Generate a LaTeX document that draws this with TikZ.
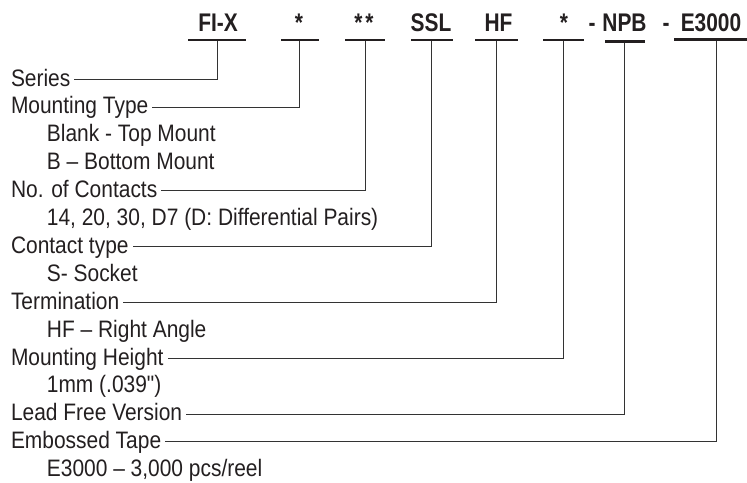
\documentclass[tikz,border=0pt]{standalone}
\usepackage{fontspec}
\setmainfont{Liberation Sans}
\newfontfamily\lblfont[FakeStretch=0.88]{Liberation Sans}
\newfontfamily\hdrfont[FakeStretch=0.82]{Liberation Sans}
\definecolor{ink}{HTML}{231F20}
\definecolor{leadc}{HTML}{333333}
\begin{document}
\begin{tikzpicture}[x=1pt,y=-1pt,
  lbl/.style={anchor=base west, inner sep=0pt, outer xsep=4pt, text height=13.6pt, text depth=0pt,
              font=\lblfont\fontsize{23.8}{25}\selectfont, text=ink},
  sub/.style={anchor=base west, inner sep=0pt, font=\lblfont\fontsize{23.8}{25}\selectfont, text=ink},
  hdr/.style={anchor=base, inner sep=0pt, font=\hdrfont\bfseries\fontsize{25.5}{27}\selectfont, text=ink},
  bar/.style={fill=ink, inner sep=0pt, minimum height=2.5pt},
  lead/.style={draw=leadc, line width=1pt}]
\useasboundingbox (0,0) rectangle (747,482);

% header codes
\node[hdr] (h1) at (218,31.5) {FI-X};
\node[hdr] (h2) at (299,31.5) {*};
\node[hdr] (h3) at (364,31.5) {*\kern3pt*};
\node[hdr] (h4) at (431,31.5) {SSL};
\node[hdr] (h5) at (498.5,31.5) {HF};
\node[hdr] (h6) at (564,31.5) {*};
\node[hdr] (d1) at (592,31.5) {-};
\node[hdr] (h7) at (624.5,31.5) {NPB};
\node[hdr] (d2) at (666,31.5) {-};
\node[hdr] (h8) at (711,31.5) {E3000};

% bars
\node[bar, minimum width=58pt] (b1) at (217,40) {};
\node[bar, minimum width=38pt] (b2) at (299.5,40) {};
\node[bar, minimum width=40pt] (b3) at (365,40) {};
\node[bar, minimum width=42pt] (b4) at (431.5,40) {};
\node[bar, minimum width=43pt] (b5) at (496,40) {};
\node[bar, minimum width=41pt] (b6) at (563.5,40) {};
\node[bar, minimum width=40pt] (b7) at (624.5,41.5) {};
\node[bar, minimum width=74pt] (b8) at (711,39.5) {};

% labels
\node[lbl] (l1) at (7,86) {Series};
\node[lbl] (l2) at (7,113.9) {Mounting Type};
\node[sub] (s2a) at (46.7,141.8) {Blank - Top Mount};
\node[sub] (s2b) at (46.7,169.7) {B – Bottom Mount};
\node[lbl] (l3) at (7,197.6) {No. of Contacts};
\node[sub] (s3) at (46.7,225.5) {14, 20, 30, D7 (D: Differential Pairs)};
\node[lbl] (l4) at (7,253.4) {Contact type};
\node[sub] (s4) at (46.7,281.3) {S- Socket};
\node[lbl] (l5) at (7,309.2) {Termination};
\node[sub] (s5) at (46.7,337.1) {HF – Right Angle};
\node[lbl] (l6) at (7,365) {Mounting Height};
\node[sub] (s6) at (46.7,392.9) {1mm (.039")};
\node[lbl] (l7) at (7,420.8) {Lead Free Version};
\node[lbl] (l8) at (7,448.7) {Embossed Tape};
\node[sub] (s8) at (46.7,476.6) {E3000 – 3,000 pcs/reel};

% leaders
\draw[lead] (b1.south) |- (l1.east);
\draw[lead] (b2.south) |- (l2.east);
\draw[lead] (b3.south) |- (l3.east);
\draw[lead] (b4.south) |- (l4.east);
\draw[lead] (b5.south) |- (l5.east);
\draw[lead] (b6.south) |- (l6.east);
\draw[lead] (b7.south) |- (l7.east);
\draw[lead] ([xshift=5.7pt]b8.south) |- (l8.east);
\end{tikzpicture}
\end{document}
